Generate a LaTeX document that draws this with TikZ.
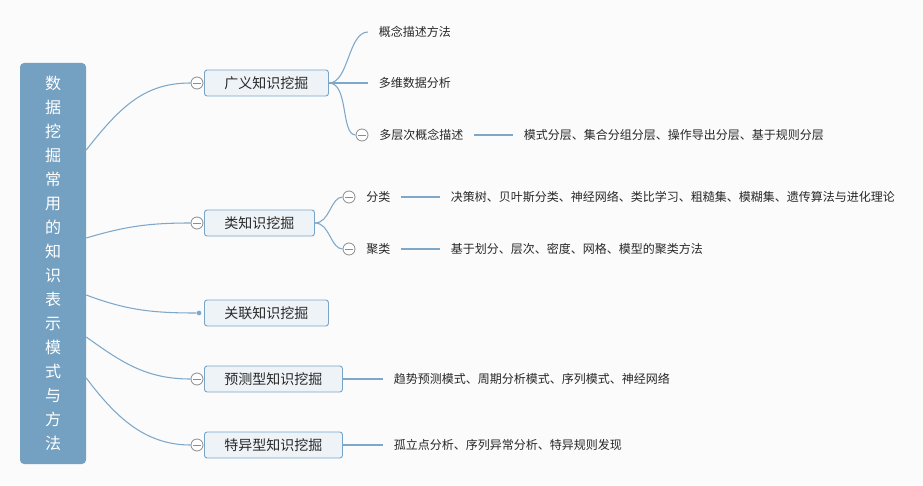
\documentclass[tikz,border=0pt]{standalone}
\usepackage{fontspec}
\setmainfont{Noto Sans CJK SC}
\usepackage{tikz}
\usetikzlibrary{positioning, calc}
\definecolor{rootblue}{RGB}{116,160,193}
\definecolor{linkblue}{RGB}{126,168,202}
\definecolor{boxfill}{RGB}{238,243,247}
\definecolor{boxline}{RGB}{120,164,200}
\definecolor{bggray}{RGB}{251,251,251}
\definecolor{inkgray}{RGB}{40,40,40}

\begin{document}
\begin{tikzpicture}[x=0.75pt, y=-0.75pt,
		rootbox/.style={fill=rootblue, rounded corners=3pt, minimum width=49.5pt, minimum height=300.75pt, align=center, text=white, font=\fontsize{12}{18}\selectfont},
		topic/.style={draw=boxline, fill=boxfill, rounded corners=2pt, anchor=west, minimum height=19.5pt, inner xsep=15pt, inner ysep=0pt, line width=0.7pt, font=\fontsize{10.5}{12}\selectfont, text=inkgray},
		leaf/.style={anchor=west, inner xsep=8pt, inner ysep=2pt, font=\fontsize{9}{11}\selectfont, text=inkgray},
		fold/.style={circle, draw=gray!90, fill=white, inner sep=0pt, minimum size=9pt, line width=0.6pt,
				path picture={\draw[gray!90, line width=0.6pt] ([xshift=-3pt]path picture bounding box.center) -- ([xshift=3pt]path picture bounding box.center);}},
		link/.style={draw=linkblue, line width=0.8pt}
	]
	\useasboundingbox (0,0) rectangle (923,485);
	\fill[bggray] (0,0) rectangle (923,485);

	% Root
	\node[rootbox] (root) at (53,263.5) {数\\据\\挖\\掘\\常\\用\\的\\知\\识\\表\\示\\模\\式\\与\\方\\法};

	% Main topics
	\node[topic] (gy) at (204,83) {广义知识挖掘};
	\node[topic] (lei) at (204,223) {类知识挖掘};
	\node[topic] (gl) at (204,313) {关联知识挖掘};
	\node[topic] (yc) at (204,379) {预测型知识挖掘};
	\node[topic] (ty) at (204,445) {特异型知识挖掘};

	\node[fold] (gyf) at (197,83) {};
	\node[fold] (leif) at (197,223) {};
	\node[circle, fill=linkblue, inner sep=0pt, minimum size=3.5pt] (gld) at (199,313) {};
	\node[fold] (ycf) at (197,379) {};
	\node[fold] (tyf) at (197,445) {};

	\draw[link] ($(root.east)+(0,-113.5)$) .. controls +(35,-45) and +(-45,0) .. (gyf.west);
	\draw[link] ($(root.east)+(0,-25.5)$) .. controls +(40,-12) and +(-40,0) .. (leif.west);
	\draw[link] ($(root.east)+(0,31.5)$) .. controls +(40,15) and +(-45,0) .. (gld.west);
	\draw[link] ($(root.east)+(0,73.5)$) .. controls +(35,25) and +(-45,0) .. (ycf.west);
	\draw[link] ($(root.east)+(0,114.5)$) .. controls +(30,40) and +(-45,0) .. (tyf.west);

	% Broad knowledge
	\node[leaf] (gn) at (368,32) {概念描述方法};
	\node[leaf] (dw) at (368,83) {多维数据分析};
	\node[fold] (dcf) at (362,135) {};
	\node[leaf] (dc) at (dcf.east) {多层次概念描述};
	\node[leaf, right=29pt of dc] (dcl) {模式分层、集合分组分层、操作导出分层、基于规则分层};

	\draw[link] (gy.east) .. controls +(20,0) and +(-20,0) .. (gn.west);
	\draw[link] (gy.east) -- (dw.west);
	\draw[link] (gy.east) .. controls +(20,0) and +(-15,0) .. (dcf.west);
	\draw[link] (dc.east) -- (dcl.west);

	% Class knowledge
	\node[fold] (flf) at (349,197) {};
	\node[leaf] (fl) at (flf.east) {分类};
	\node[leaf, right=29pt of fl] (fll) {决策树、贝叶斯分类、神经网络、类比学习、粗糙集、模糊集、遗传算法与进化理论};
	\node[fold] (jlf) at (349,249) {};
	\node[leaf] (jl) at (jlf.east) {聚类};
	\node[leaf, right=29pt of jl] (jll) {基于划分、层次、密度、网格、模型的聚类方法};

	\draw[link] (lei.east) .. controls +(15,0) and +(-12,0) .. (flf.west);
	\draw[link] (lei.east) .. controls +(15,0) and +(-12,0) .. (jlf.west);
	\draw[link] (fl.east) -- (fll.west);
	\draw[link] (jl.east) -- (jll.west);

	% Prediction and anomaly
	\node[leaf, right=30pt of yc] (ycl) {趋势预测模式、周期分析模式、序列模式、神经网络};
	\node[leaf, right=30pt of ty] (tyl) {孤立点分析、序列异常分析、特异规则发现};
	\draw[link] (yc.east) -- (ycl.west);
	\draw[link] (ty.east) -- (tyl.west);
\end{tikzpicture}
\end{document}
